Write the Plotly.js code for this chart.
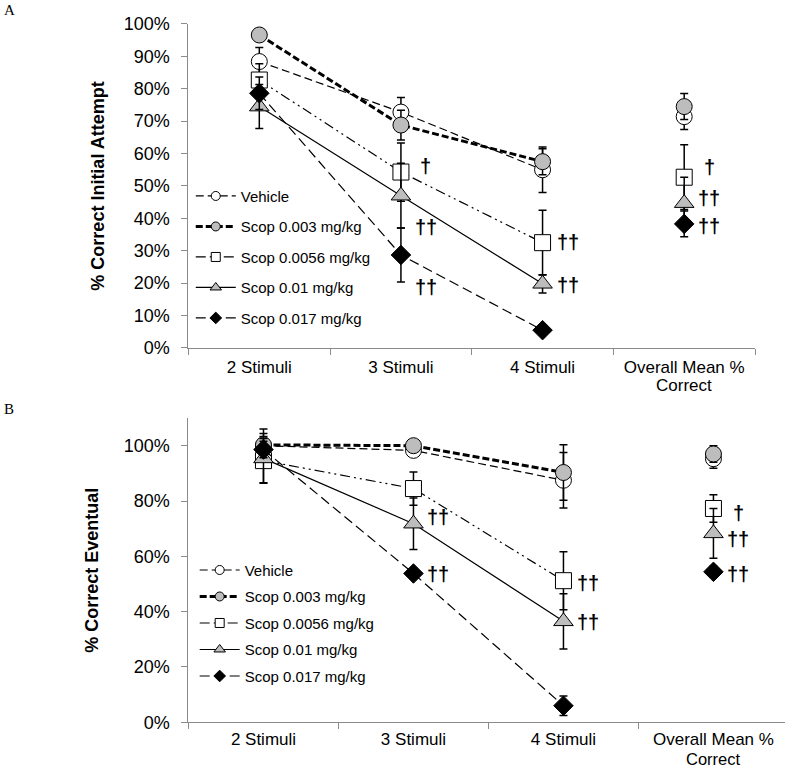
<!DOCTYPE html>
<html>
<head>
<meta charset="utf-8">
<script src="https://cdn.plot.ly/plotly-3.0.1.min.js"></script>
<style>
  html, body { margin: 0; padding: 0; background: #fff; }
  #chart { width: 785px; height: 768px; }
</style>
</head>
<body>
<div id="chart"></div>
<script>
// categories
const STIMULI = ['2 Stimuli', '3 Stimuli', '4 Stimuli'];
const OVERALL = 'Overall Mean %';
const OVERALL_2ND = 'Correct';
const SERIES_NAMES = ['Vehicle', 'Scop 0.003 mg/kg', 'Scop 0.0056 mg/kg', 'Scop 0.01 mg/kg', 'Scop 0.017 mg/kg'];

// panel A: % correct initial attempt (mean, SEM)
const A_vehicle = [88.4, 72.8, 55.0];
const A_vehicleErr = [4.3, 4.5, 7.0];
const A_scop003 = [96.6, 68.8, 57.5];
const A_scop003Err = [1.5, 4.6, 4.0];
const A_scop0056 = [82.7, 54.3, 32.5];
const A_scop0056Err = [5.0, 9.0, 10.0];
const A_scop01 = [74.5, 47.0, 19.8];
const A_scop01Err = [6.8, 10.0, 2.8];
const A_scop017 = [78.6, 28.7, 5.5];
const A_scop017Err = [5.0, 8.3, 1.0];
const A_overall = [71.4, 74.5, 52.7, 44.7, 38.3];
const A_overallErr = [4.0, 4.0, 10.0, 8.0, 4.0];

// panel B: % correct eventual (mean, SEM)
const B_vehicle = [100.0, 98.3, 87.5];
const B_vehicleErr = [6.0, 1.5, 10.0];
const B_scop003 = [100.3, 100.0, 90.3];
const B_scop003Err = [3.0, 0.5, 10.0];
const B_scop0056 = [94.6, 84.5, 51.2];
const B_scop0056Err = [8.0, 6.0, 10.5];
const B_scop01 = [95.4, 71.8, 36.5];
const B_scop01Err = [9.0, 9.3, 10.0];
const B_scop017 = [98.6, 53.8, 6.0];
const B_scop017Err = [3.0, 1.0, 3.5];
const B_overall = [95.3, 97.0, 77.3, 68.3, 54.4];
const B_overallErr = [3.5, 3.0, 5.0, 9.0, 2.0];

// significance marks
const A_markX = ['3 Stimuli', '3 Stimuli', '3 Stimuli', '4 Stimuli', '4 Stimuli', OVERALL, OVERALL, OVERALL];
const A_markY = [56.2, 37.3, 18.8, 32.7, 19.4, 55.9, 46.3, 37.7];
const A_markText = ['†', '††', '††', '††', '††', '†', '††', '††'];
const B_markX = ['3 Stimuli', '3 Stimuli', '4 Stimuli', '4 Stimuli', OVERALL, OVERALL, OVERALL];
const B_markY = [74.1, 53.5, 50.3, 36.3, 75.5, 66.1, 53.5];
const B_markText = ['††', '††', '††', '††', '†', '††', '††'];

const GREY = '#bdbdbd';
const FONT = 'Liberation Sans, Arial, sans-serif';
const STYLES = [
    { symbol: 'circle', size: 16, legSize: 9, fill: '#fff', dash: '8px,4px', width: 1.2 },
    { symbol: 'circle', size: 16, legSize: 9, fill: GREY, dash: '7px,3px', width: 3 },
    { symbol: 'square', size: 16, legSize: 9, fill: '#fff', dash: '10px,4px,2px,4px,2px,4px', width: 1.2 },
    { symbol: 'triangle-up', size: 17, legSize: 10, fill: GREY, dash: 'solid', width: 1.2 },
    { symbol: 'diamond', size: 15, legSize: 9, fill: '#000', dash: '10px,5px', width: 1.2 },
];

function panelTraces(series, errs, overall, overallErr, xa, ya, legendId) {
    const traces = [];
    series.forEach((vals, i) => {
        const st = STYLES[i];
        traces.push({
            x: STIMULI, y: vals, name: SERIES_NAMES[i],
            xaxis: xa, yaxis: ya, showlegend: false,
            type: 'scatter', mode: 'lines+markers', cliponaxis: false,
            line: { color: '#000', width: st.width, dash: st.dash },
            marker: { symbol: st.symbol, size: st.size, color: st.fill, line: { color: '#000', width: 1 } },
            error_y: { type: 'data', array: errs[i], color: '#000', thickness: 1.5, width: 4 },
            hoverinfo: 'skip',
        });
    });
    overall.forEach((v, i) => {
        const st = STYLES[i];
        traces.push({
            x: [OVERALL], y: [v], xaxis: xa, yaxis: ya, showlegend: false,
            type: 'scatter', mode: 'markers', cliponaxis: false,
            marker: { symbol: st.symbol, size: st.size, color: st.fill, line: { color: '#000', width: 1 } },
            error_y: { type: 'data', array: [overallErr[i]], color: '#000', thickness: 1.5, width: 4 },
            hoverinfo: 'skip',
        });
    });
    // legend entries with small markers, like the original
    SERIES_NAMES.forEach((name, i) => {
        const st = STYLES[i];
        traces.push({
            x: [null], y: [null], name, xaxis: xa, yaxis: ya,
            legend: legendId, legendgroup: legendId + i,
            type: 'scatter', mode: 'lines+markers',
            line: { color: '#000', width: st.width, dash: i === 2 ? '10px,4px' : st.dash },
            marker: { symbol: st.symbol, size: st.legSize, color: st.fill, line: { color: '#000', width: 1 } },
            hoverinfo: 'skip',
        });
    });
    return traces;
}

const data = [
    ...panelTraces([A_vehicle, A_scop003, A_scop0056, A_scop01, A_scop017],
        [A_vehicleErr, A_scop003Err, A_scop0056Err, A_scop01Err, A_scop017Err],
        A_overall, A_overallErr, 'x', 'y', 'legend'),
    ...panelTraces([B_vehicle, B_scop003, B_scop0056, B_scop01, B_scop017],
        [B_vehicleErr, B_scop003Err, B_scop0056Err, B_scop01Err, B_scop017Err],
        B_overall, B_overallErr, 'x2', 'y2', 'legend2'),
];

const marks = (xs, ys, texts, xref, yref) => xs.map((x, i) => ({
    x, y: ys[i], text: texts[i], xref, yref, showarrow: false,
    xanchor: 'center', yanchor: 'middle', xshift: 25,
    font: { family: FONT, size: 20, color: '#000', weight: 'bold' },
}));

const xaxisBase = {
    type: 'category', categoryorder: 'array', categoryarray: [...STIMULI, OVERALL],
    showline: true, linecolor: '#8a8a8a', linewidth: 1,
    ticks: 'outside', tickson: 'boundaries', ticklen: 6, tickcolor: '#8a8a8a',
    ticklabelstandoff: 4,
    showgrid: false, zeroline: false,
    tickfont: { family: FONT, size: 17, color: '#000' },
};
const yaxisBase = {
    showline: true, linecolor: '#8a8a8a', linewidth: 1,
    ticks: 'outside', ticklen: 6, tickcolor: '#8a8a8a', ticklabelstandoff: 8,
    showgrid: false, zeroline: false, ticksuffix: '%',
    tickfont: { family: FONT, size: 18, color: '#000' },
};
const legendBase = {
    font: { family: FONT, size: 15, color: '#000' },
    bgcolor: 'rgba(0,0,0,0)', traceorder: 'grouped', itemwidth: 40,
    xanchor: 'left', yanchor: 'top',
};

const secondLine = (xref, y, size) => ({
    text: OVERALL_2ND, x: OVERALL, y, xref, yref: 'paper', showarrow: false,
    xanchor: 'center', yanchor: 'middle',
    font: { family: FONT, size, color: '#000' },
});

const layout = {
    width: 785, height: 768,
    margin: { t: 0, r: 0, b: 0, l: 0 },
    paper_bgcolor: '#fff', plot_bgcolor: '#fff',
    font: { family: FONT, color: '#000' },
    xaxis: { ...xaxisBase, domain: [0.2401, 0.9618], range: [-0.5, 3.5], anchor: 'y' },
    yaxis: {
        ...yaxisBase, domain: [0.5469, 0.9688], range: [0, 100], dtick: 10, anchor: 'x',
        title: { text: '% Correct Initial Attempt', standoff: 14, font: { family: FONT, size: 18, weight: 'bold' } },
    },
    xaxis2: { ...xaxisBase, domain: [0.2401, 1.0], range: [-0.5, 3.477], anchor: 'y2', ticklabelstandoff: 1 },
    yaxis2: {
        ...yaxisBase, domain: [0.0595, 0.4557], range: [0, 110], dtick: 20, anchor: 'x2',
        title: { text: '% Correct Eventual', standoff: 20, font: { family: FONT, size: 18, weight: 'bold' } },
    },
    legend: { ...legendBase, x: 0.243, y: 0.766, tracegroupgap: 8 },
    legend2: { ...legendBase, x: 0.248, y: 0.279, tracegroupgap: 4 },
    annotations: [
        ...marks(A_markX, A_markY, A_markText, 'x', 'y'),
        ...marks(B_markX, B_markY, B_markText, 'x2', 'y2'),
        secondLine('x', 1 - 385 / 768, 17),
        secondLine('x2', 1 - 759 / 768, 16.5),
        { text: 'A', x: 0.002, y: 1.0, xref: 'paper', yref: 'paper', xanchor: 'left', yanchor: 'top',
          showarrow: false, font: { family: 'Liberation Serif, Times New Roman, serif', size: 15, color: '#000' } },
        { text: 'B', x: 0.002, y: 0.481, xref: 'paper', yref: 'paper', xanchor: 'left', yanchor: 'top',
          showarrow: false, font: { family: 'Liberation Serif, Times New Roman, serif', size: 15, color: '#000' } },
    ],
};

Plotly.newPlot('chart', data, layout, { displayModeBar: false, responsive: false });
</script>
</body>
</html>
